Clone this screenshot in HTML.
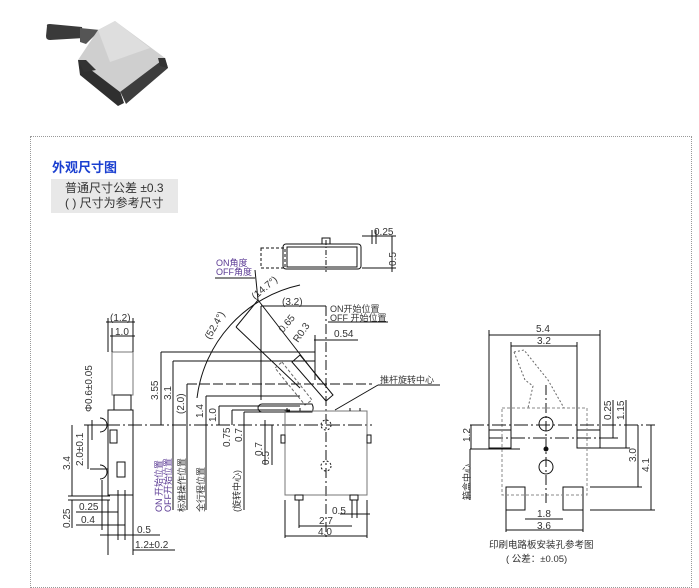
<!DOCTYPE html>
<html><head><meta charset="utf-8"><style>
body{margin:0;width:699px;height:588px;background:#fff;position:relative;overflow:hidden;font-family:"Liberation Sans","Noto Sans CJK SC",sans-serif}
.box{position:absolute;left:30px;top:136px;width:660px;height:450px;border:1px dotted #999}
.t{position:absolute;left:52px;top:157px;font-size:13px;font-weight:bold;color:#1a3fd0}
.g{position:absolute;left:51px;top:179px;width:127px;height:34px;background:#e8e8e8;font-size:12px;color:#333;line-height:15px;padding:2px 0 0 14px;box-sizing:border-box}
svg{position:absolute;left:0;top:0}
</style></head><body>
<svg width="699" height="588" viewBox="0 0 699 588">
<g>
<path d="M47 26 Q46 24 50 24 L82 27 L84 38 L50 40 Q46 40 46 36 Z" fill="#3a3a3a"/>
<path d="M80 28 L100 30 L86 44 L80 42 Z" fill="#555"/>
<path d="M78 60 L120 91 L124 103 L118 106 L80 75 Z" fill="#2f2f2f"/>
<path d="M120 91 L165 58 L168 68 L126 104 Z" fill="#3d3d3d"/>
<path d="M98 30 L115 21 L165 58 L120 92 L78 60 Z" fill="#cfcfcf"/>
<path d="M98 30 L115 21 L150 48 L110 62 Z" fill="#dedede"/>
<path d="M78 60 L86 60 L96 70 L84 72 Z" fill="#333"/>
<path d="M158 58 L165 58 L168 68 L160 66 Z" fill="#333"/>
</g>
</svg>
<div class="box"></div>
<div class="t">外观尺寸图</div>
<div class="g">普通尺寸公差 ±0.3<br>( ) 尺寸为参考尺寸</div>
<svg width="699" height="588" viewBox="0 0 699 588" font-family="Liberation Sans, Noto Sans CJK SC, sans-serif" font-size="10" fill="#333" stroke-width="1">
<g stroke="#111" fill="none">
<rect x="261" y="248" width="24" height="20" stroke-dasharray="3,2"/>
<rect x="283" y="244" width="78" height="25" rx="3"/>
<rect x="287" y="247" width="70" height="20"/>
<path d="M322 244 v-6 h8 v6"/><line x1="326" y1="240" x2="326" y2="272" stroke-dasharray="5,2,1,2"/>
<line x1="362" y1="236" x2="396" y2="236"/><line x1="362" y1="268" x2="396" y2="268"/><line x1="392" y1="236" x2="392" y2="272"/>
<line x1="372" y1="230" x2="372" y2="244"/><line x1="376" y1="230" x2="376" y2="244"/>
<rect x="112" y="352" width="21" height="43" stroke="#777"/>
<rect x="114" y="395" width="17" height="15"/>
<rect x="108" y="410" width="25" height="85"/>
<rect x="110" y="430" width="7" height="13"/><rect x="117" y="462" width="8" height="15"/>
<path d="M100 418 a7 7 0 0 1 0 14 M100 465 a7 7 0 0 1 0 14"/>
<line x1="108" y1="318" x2="108" y2="352"/><line x1="133" y1="318" x2="133" y2="352"/><line x1="112" y1="328" x2="112" y2="352"/>
<line x1="106" y1="322" x2="135" y2="322"/><line x1="110" y1="336" x2="135" y2="336"/>
<line x1="92" y1="420" x2="92" y2="440"/><line x1="85" y1="425" x2="110" y2="425"/><line x1="90" y1="469" x2="108" y2="469"/>
<line x1="88" y1="425" x2="88" y2="469"/><line x1="72" y1="425" x2="72" y2="496"/><line x1="68" y1="496" x2="110" y2="496"/><line x1="68" y1="500" x2="110" y2="500"/>
<line x1="72" y1="500" x2="72" y2="528"/>
<line x1="76" y1="512" x2="118" y2="512"/><line x1="76" y1="525" x2="125" y2="525"/>
<line x1="102" y1="480" x2="102" y2="530"/><line x1="118" y1="490" x2="118" y2="540"/><line x1="125" y1="490" x2="125" y2="540"/>
<line x1="100" y1="535" x2="160" y2="535"/><line x1="108" y1="500" x2="108" y2="555"/><line x1="133" y1="495" x2="133" y2="555"/>
<line x1="133" y1="550" x2="175" y2="550"/>
<line x1="84" y1="425" x2="372" y2="425" stroke-dasharray="14,3,2,3"/>
<line x1="161" y1="352" x2="161" y2="425"/><line x1="161" y1="352" x2="315" y2="352"/>
<line x1="173" y1="361" x2="173" y2="510"/><line x1="173" y1="361" x2="315" y2="361"/>
<line x1="187" y1="384" x2="187" y2="510"/><line x1="187" y1="384" x2="372" y2="384" stroke-dasharray="10,3"/>
<line x1="206" y1="396" x2="206" y2="510"/><line x1="206" y1="396" x2="300" y2="396"/>
<line x1="219" y1="406" x2="219" y2="425"/><line x1="219" y1="406" x2="300" y2="406"/>
<line x1="232" y1="410" x2="232" y2="425"/><line x1="232" y1="410" x2="290" y2="410"/>
<line x1="244" y1="412" x2="244" y2="510"/><line x1="244" y1="412" x2="290" y2="412"/>
<line x1="265" y1="420" x2="265" y2="465"/><line x1="272" y1="425" x2="272" y2="465"/>
<path d="M197 398 A132 132 0 0 1 300 285"/>
<line x1="236" y1="327" x2="258" y2="300"/><line x1="258" y1="300" x2="320" y2="380"/><line x1="236" y1="327" x2="300" y2="388"/>
<line x1="258" y1="300" x2="255" y2="270"/><line x1="215" y1="278" x2="255" y2="278"/>
<path d="M300 355 L333 395 L326 401 L292 362 Z"/>
<path d="M282 362 L312 400 L305 405 L275 368 Z" stroke="#666" stroke-dasharray="3,2"/>
<path d="M262 404 h50 a8 8 0 0 1 0 8 h-50 a4 4 0 0 1 0 -8" />
<line x1="261" y1="306" x2="326" y2="306"/><line x1="261" y1="306" x2="261" y2="400"/>
<line x1="326" y1="306" x2="326" y2="540" stroke-dasharray="10,3,2,3"/>
<line x1="314" y1="340" x2="358" y2="340"/><line x1="315" y1="335" x2="315" y2="380"/>
<line x1="328" y1="322" x2="388" y2="322"/><line x1="378" y1="385" x2="440" y2="385"/><line x1="378" y1="385" x2="335" y2="410"/>
<rect x="285" y="411" width="82" height="84" stroke="#777"/>
<path d="M290 411 h-3 v-3 M300 411 v-3 M350 411 v-3 M360 411 v-3"/>
<circle cx="326" cy="425" r="5" stroke-dasharray="2,2"/><circle cx="326" cy="466" r="5" stroke-dasharray="2,2"/>
<rect x="281" y="435" width="4" height="8"/><rect x="367" y="435" width="4" height="8"/>
<rect x="295" y="495" width="8" height="5"/><rect x="350" y="495" width="8" height="5"/>
<line x1="299" y1="500" x2="299" y2="528"/><line x1="352" y1="500" x2="352" y2="518"/><line x1="357" y1="500" x2="357" y2="518"/>
<line x1="285" y1="500" x2="285" y2="538"/><line x1="367" y1="500" x2="367" y2="538"/>
<line x1="299" y1="526" x2="352" y2="526"/><line x1="285" y1="536" x2="367" y2="536"/><line x1="340" y1="514" x2="370" y2="514"/>
<line x1="489" y1="330" x2="489" y2="448"/><line x1="600" y1="330" x2="600" y2="448"/>
<line x1="489" y1="335" x2="600" y2="335"/><line x1="511" y1="342" x2="511" y2="430"/><line x1="577" y1="342" x2="577" y2="430"/><line x1="511" y1="346" x2="577" y2="346"/>
<rect x="489" y="430" width="22" height="18"/><rect x="577" y="430" width="23" height="18"/>
<rect x="506" y="487" width="19" height="23"/><rect x="563" y="487" width="20" height="23"/>
<path d="M502 408 h85 v87 h-85 z" stroke="#888" stroke-dasharray="3,2"/>
<path d="M514 352 L524 350 L548 380 L564 408 M514 352 L525 380 L533 386 L528 408" stroke="#666" stroke-dasharray="2,2"/>
<circle cx="546" cy="424" r="7"/><circle cx="546" cy="467" r="7"/><circle cx="546" cy="449" r="2" fill="#111"/>
<line x1="470" y1="425" x2="655" y2="425" stroke-dasharray="14,3,2,3"/>
<line x1="489" y1="438" x2="600" y2="438" stroke-dasharray="14,3,2,3"/>
<line x1="470" y1="449" x2="520" y2="449"/>
<line x1="546" y1="385" x2="546" y2="505" stroke-dasharray="10,3,2,3"/>
<line x1="471" y1="425" x2="471" y2="449"/><line x1="470" y1="449" x2="470" y2="500"/>
<line x1="600" y1="438" x2="618" y2="438"/><line x1="613" y1="400" x2="613" y2="438"/><line x1="626" y1="400" x2="626" y2="448"/><line x1="600" y1="448" x2="630" y2="448"/>
<line x1="638" y1="425" x2="638" y2="487"/><line x1="590" y1="487" x2="642" y2="487"/>
<line x1="651" y1="425" x2="651" y2="510"/><line x1="590" y1="510" x2="655" y2="510"/>
<line x1="506" y1="510" x2="506" y2="532"/><line x1="583" y1="510" x2="583" y2="532"/>
<line x1="525" y1="519" x2="563" y2="519"/><line x1="506" y1="530" x2="583" y2="530"/>
</g>
<g>
<text x="374" y="235" font-size="10">0.25</text>
<text x="396" y="266" font-size="10" transform="rotate(-90 396 266)">0.5</text>
<text x="216" y="266" font-size="9" fill="#5b3a94">ON角度</text><text x="216" y="275" font-size="9" fill="#5b3a94">OFF角度</text>
<text x="255" y="300" font-size="10" transform="rotate(-40 255 300)">(14.7°)</text>
<text x="210" y="340" font-size="10" transform="rotate(-60 210 340)">(52.4°)</text>
<text x="282" y="305" font-size="10">(3.2)</text>
<text x="283" y="333" font-size="10" transform="rotate(-50 283 333)">0.65</text>
<text x="298" y="343" font-size="10" transform="rotate(-55 298 343)">R0.3</text>
<text x="330" y="312" font-size="9">ON开始位置</text><text x="330" y="321" font-size="9">OFF 开始位置</text>
<text x="334" y="337" font-size="10">0.54</text>
<text x="380" y="383" font-size="9">推杆旋转中心</text>
<text x="110" y="321" font-size="10">(1.2)</text><text x="115" y="335" font-size="10">1.0</text>
<text x="92" y="412" font-size="10" transform="rotate(-90 92 412)">Φ0.6±0.05</text>
<text x="83" y="466" font-size="10" transform="rotate(-90 83 466)">2.0±0.1</text>
<text x="70" y="470" font-size="10" transform="rotate(-90 70 470)">3.4</text>
<text x="70" y="528" font-size="10" transform="rotate(-90 70 528)">0.25</text>
<text x="79" y="510" font-size="10">0.25</text><text x="81" y="523" font-size="10">0.4</text>
<text x="137" y="533" font-size="10">0.5</text><text x="135" y="548" font-size="10">1.2±0.2</text>
<text x="158" y="400" font-size="10" transform="rotate(-90 158 400)">3.55</text>
<text x="171" y="400" font-size="10" transform="rotate(-90 171 400)">3.1</text>
<text x="184" y="414" font-size="10" transform="rotate(-90 184 414)">(2.0)</text>
<text x="203" y="418" font-size="10" transform="rotate(-90 203 418)">1.4</text>
<text x="216" y="422" font-size="10" transform="rotate(-90 216 422)">1.0</text>
<text x="230" y="447" font-size="10" transform="rotate(-90 230 447)">0.75</text>
<text x="242" y="442" font-size="10" transform="rotate(-90 242 442)">0.7</text>
<text x="262" y="456" font-size="10" transform="rotate(-90 262 456)">0.7</text>
<text x="269" y="465" font-size="10" transform="rotate(-90 269 465)">0.5</text>
<text x="162" y="512" font-size="9" fill="#5b3a94" transform="rotate(-90 162 512)">ON 开始位置</text>
<text x="171" y="512" font-size="9" fill="#5b3a94" transform="rotate(-90 171 512)">OFF开始位置</text>
<text x="185" y="512" font-size="9" transform="rotate(-90 185 512)">标准操作位置</text>
<text x="204" y="512" font-size="9" transform="rotate(-90 204 512)">全行程位置</text>
<text x="240" y="512" font-size="9" transform="rotate(-90 240 512)">(旋转中心)</text>
<text x="332" y="514" font-size="10">0.5</text><text x="319" y="524" font-size="10">2.7</text><text x="318" y="535" font-size="10">4.0</text>
<text x="536" y="332" font-size="10">5.4</text><text x="537" y="344" font-size="10">3.2</text>
<text x="470" y="442" font-size="10" transform="rotate(-90 470 442)">1.2</text>
<text x="470" y="500" font-size="9" transform="rotate(-90 470 500)">箱盒中心</text>
<text x="611" y="420" font-size="10" transform="rotate(-90 611 420)">0.25</text>
<text x="624" y="420" font-size="10" transform="rotate(-90 624 420)">1.15</text>
<text x="636" y="462" font-size="10" transform="rotate(-90 636 462)">3.0</text>
<text x="649" y="472" font-size="10" transform="rotate(-90 649 472)">4.1</text>
<text x="537" y="517" font-size="10">1.8</text><text x="537" y="529" font-size="10">3.6</text>
<text x="489" y="548" font-size="9.5">印刷电路板安装孔参考图</text>
<text x="506" y="562" font-size="9.5">( 公差：±0.05)</text>
</g>
</svg>
</body></html>
